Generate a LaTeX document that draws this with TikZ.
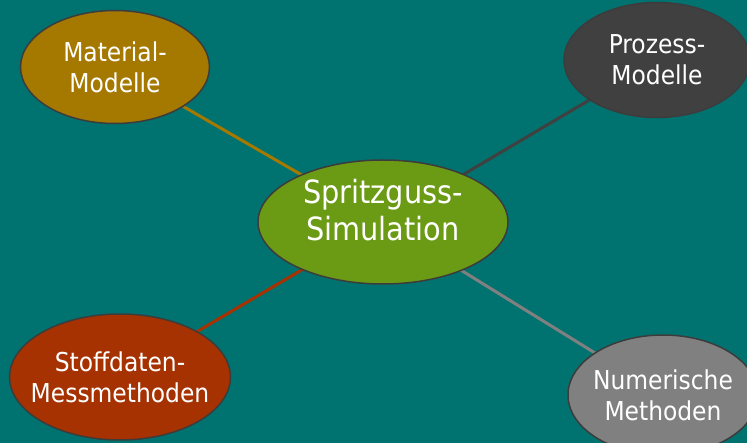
\documentclass[tikz,border=0pt]{standalone}
\usepackage{fontspec}
\setmainfont{DejaVu Sans Condensed}
\usetikzlibrary{shapes.geometric}
\pgfdeclarelayer{bg}
\pgfdeclarelayer{links}
\pgfsetlayers{bg,links,main}
\definecolor{teal}{HTML}{007370}
\definecolor{ochre}{HTML}{A57800}
\definecolor{charcoal}{HTML}{404040}
\definecolor{leaf}{HTML}{6B9A14}
\definecolor{rust}{HTML}{A53200}
\definecolor{stone}{HTML}{808080}
\definecolor{rim}{HTML}{3C3C3C}
\tikzset{
  bubble/.style={ellipse, draw=rim, line width=1.5pt,
    inner xsep=-30pt, inner ysep=-12pt,
    text=white, align=center, font=\fontsize{26}{31}\selectfont},
  hub/.style={bubble, font=\fontsize{32}{37}\selectfont},
  link/.style={line width=3pt}
}
\begin{document}
\begin{tikzpicture}[x=1pt, y=-1pt]
  \useasboundingbox (0,0) rectangle (747,443);
  \clip (0,0) rectangle (747,443);
  \begin{pgfonlayer}{bg}
    \fill[teal] (0,0) rectangle (747,443);
  \end{pgfonlayer}

  % the hub text sits a little above the ellipse centre
  \node[hub, fill=leaf, minimum width=250pt, minimum height=124pt]
    (sim) at (383,222)
    {\raisebox{6pt}[0pt][0pt]{\parbox{220pt}{\centering Spritzguss-\\Simulation}}};
  \node[bubble, fill=ochre, minimum width=189pt, minimum height=113pt]
    (mat) at (115,67) {Material-\\Modelle};
  \node[bubble, fill=charcoal, minimum width=186pt, minimum height=115pt]
    (proz) at (657,60) {Prozess-\\Modelle};
  \node[bubble, fill=rust, minimum width=221pt, minimum height=126pt]
    (stoff) at (120,377) {Stoffdaten-\\Messmethoden};
  \node[bubble, fill=stone, minimum width=190pt, minimum height=120pt]
    (num) at (663,395) {Numerische\\Methoden};

  \begin{pgfonlayer}{links}
    \draw[link, ochre] (sim.center) -- (mat.center);
    \draw[link, charcoal] (sim.center) -- (proz.center);
    \draw[link, rust] (sim.center) -- (stoff.center);
    \draw[link, stone] (sim.center) -- (num.center);
  \end{pgfonlayer}
\end{tikzpicture}
\end{document}
